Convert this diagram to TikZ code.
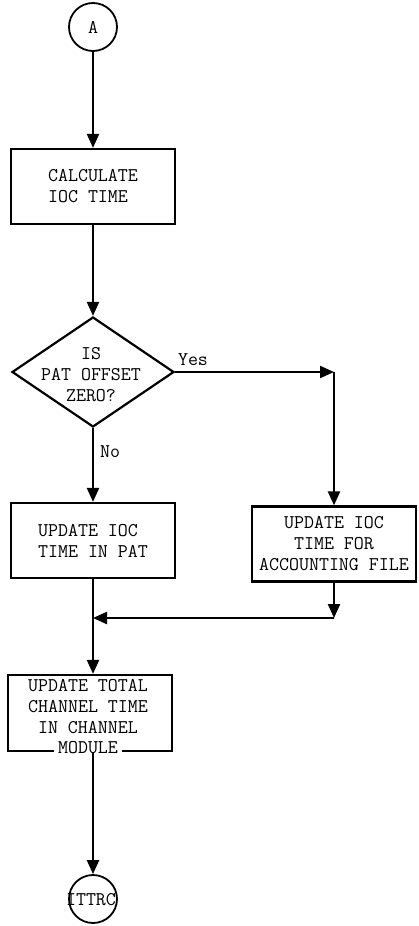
\documentclass[tikz,border=0pt]{standalone}
\usepackage{fontspec}
\usepackage{tikz}
\usetikzlibrary{
  arrows.meta,
  shapes.geometric
}

\begin{document}
\begin{tikzpicture}[
      x=1pt, y=-1pt,
      >={Triangle[length=14pt,width=12pt]},
      every node/.style={font=\fontsize{19.4}{21}\selectfont\ttfamily},
      caixa/.style={draw, line width=2.2pt, minimum width=164pt, minimum height=75pt,
                    inner sep=0pt},
      losango/.style={draw, diamond, line width=2.2pt, minimum width=162pt,
                      minimum height=110pt, inner sep=0pt},
      conector/.style={draw, circle, line width=1.8pt, minimum size=48pt, inner sep=0pt},
      seta/.style={->, line width=2.2pt}
  ]
      \def\xa{93}
      \def\xb{334}
      \useasboundingbox (0,0) rectangle (419,926);

      % --- ENTRADA ---
      \node[conector] (ini) at (\xa,27) {A};
      \node[caixa, align=left] (calc) at (\xa,186.5) {CALCULATE\\IOC TIME};

      % --- DECISAO ---
      \node[losango] (dec) at (\xa,372) {};
      \node[align=center] (dectxt) at (91,375) {IS\\PAT OFFSET\\ZERO?};
      \node (sim) at (193,360) {Yes};
      \node (nao) at (110,452) {No};
      \coordinate (vira) at (\xb,372);

      % --- ATUALIZACOES ---
      \node[caixa, align=left] (pat) at (\xa,540.5) {UPDATE IOC\\TIME IN PAT};
      \node[caixa, align=center] (cont) at (\xb,544) {UPDATE IOC\\TIME FOR\\ACCOUNTING FILE};
      \coordinate (volta) at (\xb,618);
      \coordinate (junta) at (\xa,618);

      \node[caixa, minimum height=76pt] (canal) at (90,713) {};
      \node[align=center] (canaltxt) at (88,707) {UPDATE TOTAL\\CHANNEL TIME\\IN CHANNEL};
      \node[fill=white, inner xsep=4pt, inner ysep=0pt] (modulo) at (88,747.5) {MODULE};

      % --- SAIDA ---
      \node[conector] (fim) at (\xa,899) {};
      \node (fimtxt) at (91,900) {ITTRC};

      % --- SETAS ---
      \draw[seta] (ini) -- (calc);
      \draw[seta] (calc) -- (dec);
      \draw[seta] (dec.east) -- (vira);
      \draw[seta] (vira) -- (cont);
      \draw[seta] (dec.south) -- (pat);
      \draw[seta] (cont) -- (volta);
      \draw[seta] (volta) -- (junta);
      \draw[seta] (pat) -- (pat.south |- canal.north);
      \draw[seta] (fim.north |- canal.south) -- (fim);

  \end{tikzpicture}
\end{document}
